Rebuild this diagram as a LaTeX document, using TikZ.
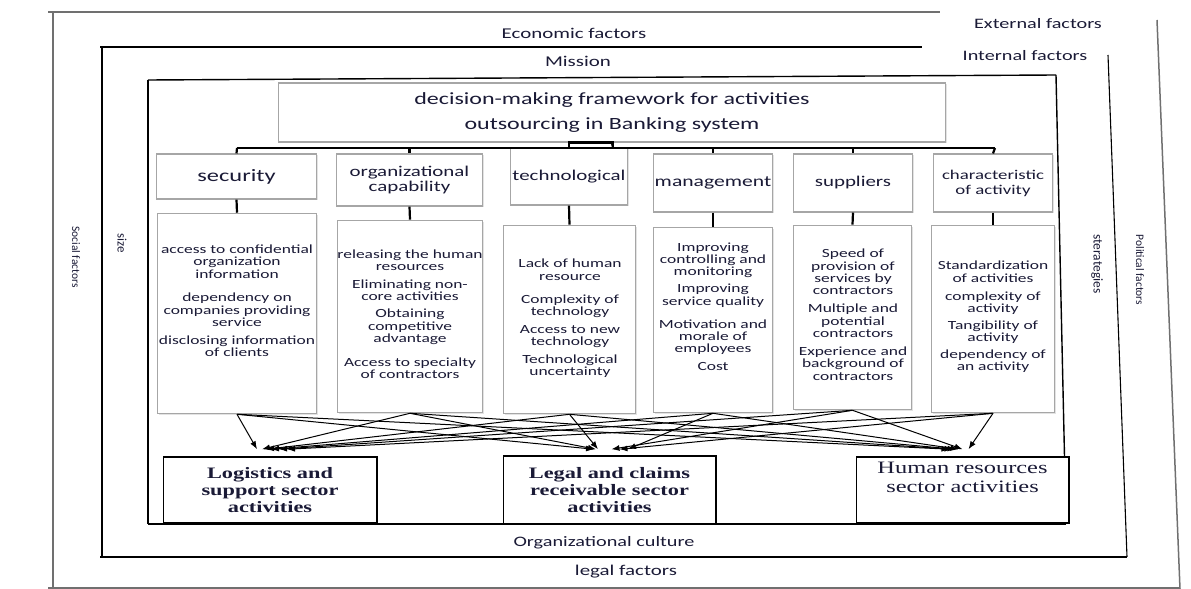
\documentclass[tikz,border=0pt]{standalone}
\usepackage{fontspec}
\setmainfont{Carlito}[FakeStretch=1.4]
\newfontfamily\rotfont{Carlito}
\newfontfamily\serifstretch{Liberation Serif}[FakeStretch=1.4]
\usetikzlibrary{arrows.meta,shadows}
\definecolor{txt}{HTML}{1A1A36}
\definecolor{boxgray}{HTML}{A6A6A6}
\definecolor{framegray}{HTML}{707070}
\newcommand\fsz[2]{\fontsize{#1}{#2}\selectfont}
\begin{document}
\begin{tikzpicture}[x=1bp,y=-1bp,
  catbox/.style={draw=boxgray, line width=1.3bp, fill=white, inner sep=0pt, align=center, text=txt,
     drop shadow={shadow xshift=1.3bp, shadow yshift=-1.3bp, opacity=0.22}},
  detbox/.style={catbox},
  dettxt/.style={inner sep=0pt, align=center, text=txt, font=\fsz{12.5}{12.4}, anchor=north},
  outbox/.style={draw=black, line width=1.8bp, fill=white, inner sep=0pt, align=center, text=txt,
     font=\serifstretch\bfseries\fsz{16}{17.5}},
  conn/.style={line width=2.2bp, black},
  arr/.style={line width=1bp, black, -{Latex[length=8bp,width=6bp]}},
  flabel/.style={inner sep=0pt, text=txt, font=\fsz{14.5}{16}},
  rlabel/.style={inner sep=0pt, text=txt, rotate=-90},
  extframe/.style={line width=1.5bp, framegray},
  intframe/.style={line width=1.1bp, black},
  innframe/.style={line width=1.4bp, black}
]
\useasboundingbox (0,0) rectangle (1191,589);
% frames
\draw[extframe] (48,12) -- (940,12);
\draw[extframe] (53,12) -- (53,589);
\draw[extframe] (48,588) -- (1180,588);
\draw[extframe] (1157,20) -- (1180,589);
\draw[intframe] (100,47) -- (922,47);
\draw[intframe] (102,47) -- (102,557);
\draw[intframe] (100,557) -- (1127,557);
\draw[intframe] (1108,55) -- (1127,557);
\draw[innframe] (148,80) -- (1056,75);
\draw[innframe] (148,80) -- (148,524);
\draw[innframe] (148,524) -- (1066,524);
\draw[innframe] (1056,75) -- (1066,524);
% frame labels
\node[flabel] (ext) at (1038,24) {External factors};
\node[flabel] (int) at (1025,56) {Internal factors};
\node[flabel, font=\fsz{15}{16}] (eco) at (574,33) {Economic factors};
\node[flabel, font=\fsz{15}{16}] (mis) at (578,61) {Mission};
\node[flabel] (cul) at (604,543) {Organizational culture};
\node[flabel, font=\fsz{15}{16}] (leg) at (626,572) {legal factors};
\node[rlabel, font=\rotfont\fsz{11.5}{12}] (soc) at (76,257) {Social factors};
\node[rlabel, font=\rotfont\fsz{13}{14}] (siz) at (122,243) {size};
\node[rlabel, font=\rotfont\fsz{13.5}{14}] (str) at (1097,264) {sterategies};
\node[rlabel, font=\rotfont\fsz{11.5}{12}] (pol) at (1140,270) {Political factors};
% top box
\node[catbox, minimum width=670, minimum height=59, font=\fsz{17.2}{26}] (top) at (612,112.5)
  {decision-making framework for activities\\outsourcing in Banking system};
% category boxes
\node[catbox, minimum width=161, minimum height=45, font=\fsz{17.5}{18}] (c1) at (236.5,176.5) {security};
\node[catbox, minimum width=147, minimum height=52, font=\fsz{15}{16}] (c2) at (409.5,180) {organizational\\capability};
\node[catbox, minimum width=118, minimum height=57, font=\fsz{15}{16}] (c3) at (569,176.5) {technological};
\node[catbox, minimum width=120, minimum height=58, font=\fsz{15.5}{16}] (c4) at (713,183) {management};
\node[catbox, minimum width=120, minimum height=58, font=\fsz{15}{16}] (c5) at (853,183) {suppliers};
\node[catbox, minimum width=120, minimum height=58, font=\fsz{13.5}{15}] (c6) at (993,183) {characteristic\\of activity};
% detail boxes
\node[detbox, minimum width=160, minimum height=201] (d1) at (237,313.5) {};
\node[detbox, minimum width=146, minimum height=193] (d2) at (410,316.5) {};
\node[detbox, minimum width=133, minimum height=189] (d3) at (569.5,319.5) {};
\node[detbox, minimum width=119, minimum height=186] (d4) at (713,320) {};
\node[detbox, minimum width=119, minimum height=185] (d5) at (852.5,317.5) {};
\node[detbox, minimum width=123, minimum height=188] (d6) at (993,319) {};
\node[dettxt] (t1) at (237,244.5) {access to confidential\\organization\\information\\[11.5bp]dependency on\\companies providing\\service\\[5.5bp]disclosing information\\of clients};
\node[dettxt] (t2) at (410,249.5) {releasing the human\\resources\\[5.5bp]Eliminating non-\\core activities\\[4.5bp]Obtaining\\competitive\\advantage\\[11.5bp]Access to specialty\\of contractors};
\node[dettxt] (t3) at (570,259) {Lack of human\\resource\\[10.5bp]Complexity of\\technology\\[5.5bp]Access to new\\technology\\[5.5bp]Technological\\uncertainty};
\node[dettxt] (t4) at (713,242.5) {Improving\\controlling and\\monitoring\\[4.5bp]Improving\\service quality\\[10.5bp]Motivation and\\morale of\\employees\\[5.5bp]Cost};
\node[dettxt] (t5) at (853,249) {Speed of\\provision of\\services by\\contractors\\[5.5bp]Multiple and\\potential\\contractors\\[5.5bp]Experience and\\background of\\contractors};
\node[dettxt] (t6) at (993,261) {Standardization\\of activities\\[5.5bp]complexity of\\activity\\[4.5bp]Tangibility of\\activity\\[4.5bp]dependency of\\an activity};
% outcome boxes
\node[outbox, minimum width=214, minimum height=66] (o1) at (270,490) {Logistics and\\support sector\\activities};
\node[outbox, minimum width=213, minimum height=68] (o2) at (609.5,490) {Legal and claims\\receivable sector\\activities};
\node[outbox, minimum width=213, minimum height=66] (o3) at (962.5,490) {};
\node[inner sep=0pt, align=center, text=txt, font=\serifstretch\fsz{17.5}{19}] (o3t) at (962.5,477.5) {Human resources\\sector activities};
% tree connectors
\coordinate (bl) at (237,148);
\coordinate (br) at (995,148);
\coordinate (bt) at (613,148);
\draw[conn] (bl) -- (br);
\draw[conn] (top.south) -- (bt);
\draw[conn] (c3.north) -- ++(0,-5) -| (bt);
\draw[conn] (bl) -- (c1.north);
\draw[conn] (c2.north |- bl) -- (c2.north);
\draw[conn] (c4.north |- bl) -- (c4.north);
\draw[conn] (c5.north |- bl) -- (c5.north);
\draw[conn] (br) -- (c6.north);
\foreach \i in {1,...,6} { \draw[conn] (c\i.south) -- (d\i.north); }
% arrows
\foreach \s/\dx in {d1/-13, d2/-8, d3/-4, d4/1, d5/9, d6/17}
  { \draw[arr] (\s.south) -- ([xshift=\dx bp, yshift=7bp]o1.north); }
\foreach \s/\dx in {d1/-15.5, d2/-13.5, d3/-11.5, d4/18.5, d5/2, d6/10}
  { \draw[arr] (\s.south) -- ([xshift=\dx bp, yshift=6bp]o2.north); }
\foreach \s/\dx in {d1/-13, d2/-10, d3/-7, d4/-4, d5/0, d6/6}
  { \draw[arr] (\s.south) -- ([xshift=\dx bp, yshift=7bp]o3.north); }
\end{tikzpicture}
\end{document}
